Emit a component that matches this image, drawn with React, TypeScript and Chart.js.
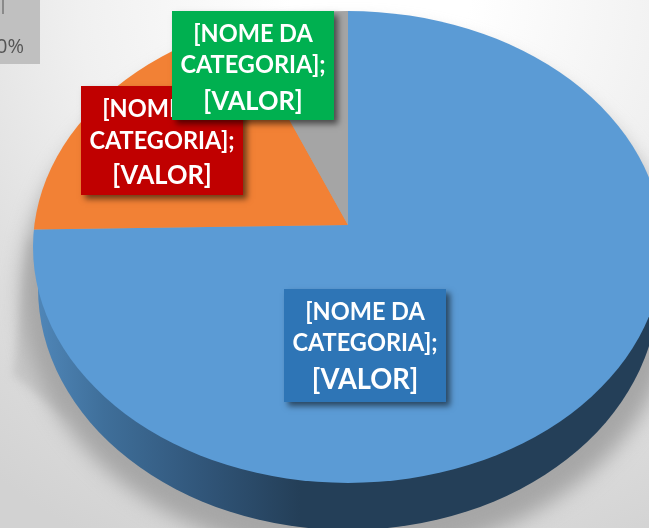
import React, { useEffect, useRef } from "react";
import { Chart, registerables } from "chart.js";

Chart.register(...registerables);

const categories = ["[NOME DA CATEGORIA] 1", "[NOME DA CATEGORIA] 2", "[NOME DA CATEGORIA] 3"];
const values = [74.7, 19.0, 6.3];
const sliceColors = ["#5B9BD5", "#F28135", "#A5A5A5"];
const labelLines = ["[NOME DA", "CATEGORIA];", "[VALOR]"];
const labelBoxes = [
  { x: 81, y: 86, w: 162, h: 109, color: "#C00000", lines: [108, 140, 174], big: 27 },
  { x: 172, y: 11, w: 162, h: 109, color: "#00B050", lines: [33, 64, 100], big: 27 },
  { x: 284, y: 289, w: 162, h: 113, color: "#2E75B6", lines: [311, 342, 379], big: 29 },
];

const APEX = { x: 348, y: 225 };
const TOP = { x: 348, y: 247, rx: 315, ry: 236 };
const BASE = { x: 348, y: 288, rx: 310, ry: 242 };
const TILT = 0.75;
const FONT = "Lato, 'Open Sans', sans-serif";
const TEXT_SQUEEZE = 0.94;

const pie3d = {
  id: "pie3d",
  beforeDatasetsDraw(chart: any) {
    const ctx: CanvasRenderingContext2D = chart.ctx;
    const W = chart.width;
    const H = chart.height;
    ctx.save();
    const bg = ctx.createRadialGradient(380, -10, 90, 380, -10, 620);
    bg.addColorStop(0, "#ffffff");
    bg.addColorStop(0.4, "#f0f0f0");
    bg.addColorStop(0.68, "#e0e0e0");
    bg.addColorStop(1, "#d2d2d2");
    ctx.fillStyle = bg;
    ctx.fillRect(0, 0, W, H);

    // top-left leftover box
    ctx.fillStyle = "#c0c0c0";
    ctx.fillRect(0, 0, 40, 64);
    ctx.fillStyle = "#8a8a8a";
    ctx.fillRect(2, 0, 2, 14);
    ctx.fillStyle = "#555555";
    ctx.font = "20px 'Open Sans', sans-serif";
    ctx.textAlign = "right";
    ctx.textBaseline = "alphabetic";
    ctx.fillText("0%", 24, 53);

    // soft shadow under the pie
    ctx.save();
    ctx.filter = "blur(4px)";
    ctx.fillStyle = "#c6c6c6";
    ctx.beginPath();
    ctx.moveTo(29, 240);
    ctx.lineTo(13, 375);
    ctx.lineTo(70, 420);
    ctx.lineTo(60, 240);
    ctx.closePath();
    ctx.fill();
    ctx.filter = "blur(10px)";
    ctx.fillStyle = "#a6a6a6";
    ctx.beginPath();
    ctx.ellipse(350, 292, 328, 266, 0, 0, Math.PI * 2);
    ctx.fill();
    ctx.restore();

    // side wall
    const wall = ctx.createLinearGradient(38, 0, 300, 0);
    wall.addColorStop(0, "#4f86b8");
    wall.addColorStop(0.25, "#3f6f9a");
    wall.addColorStop(0.62, "#31567a");
    wall.addColorStop(1, "#243f58");
    ctx.fillStyle = wall;
    ctx.beginPath();
    ctx.ellipse(BASE.x, BASE.y, BASE.rx, BASE.ry, 0, 0, Math.PI);
    ctx.closePath();
    ctx.fill();
    ctx.restore();

    // the slices: chart centre stays on the apex, the ellipse trims them
    ctx.save();
    ctx.beginPath();
    ctx.ellipse(TOP.x, TOP.y, TOP.rx, TOP.ry, 0, 0, Math.PI * 2);
    ctx.clip();
    ctx.translate(APEX.x, APEX.y);
    ctx.scale(1, TILT);
    ctx.translate(-APEX.x, -APEX.y);
  },
  afterDatasetsDraw(chart: any) {
    const ctx: CanvasRenderingContext2D = chart.ctx;
    ctx.restore();
    ctx.save();
    ctx.textAlign = "center";
    ctx.textBaseline = "middle";
    for (const b of labelBoxes) {
      ctx.save();
      ctx.shadowColor = "rgba(0,0,0,0.55)";
      ctx.shadowBlur = 6;
      ctx.shadowOffsetX = 4;
      ctx.shadowOffsetY = 4;
      ctx.fillStyle = b.color;
      ctx.fillRect(b.x, b.y, b.w, b.h);
      ctx.restore();
      ctx.save();
      ctx.beginPath();
      ctx.rect(b.x, b.y, b.w, b.h);
      ctx.clip();
      ctx.fillStyle = "#ffffff";
      labelLines.forEach((t, i) => {
        ctx.save();
        ctx.translate(b.x + b.w / 2, b.lines[i] + 1);
        ctx.scale(TEXT_SQUEEZE, 1);
        ctx.font = `bold ${i === 2 ? b.big : 25}px ${FONT}`;
        ctx.fillText(t, 0, 0);
        ctx.restore();
      });
      ctx.restore();
    }
    ctx.restore();
  },
};

export default function App() {
  const ref = useRef<HTMLCanvasElement>(null);
  useEffect(() => {
    const chart = new Chart(ref.current!, {
      type: "pie",
      data: {
        labels: categories,
        datasets: [
          {
            data: values,
            backgroundColor: sliceColors,
            borderWidth: 0,
            clip: false,
          } as any,
        ],
      },
      options: {
        animation: false,
        responsive: false,
        radius: 450,
        layout: { padding: { left: 47, bottom: 78 } },
        plugins: { legend: { display: false }, tooltip: { enabled: false } },
      } as any,
      plugins: [pie3d],
    });
    return () => chart.destroy();
  }, []);
  return (
    <div style={{ position: "absolute", left: 0, top: 0, width: 649, height: 528, overflow: "hidden" }}>
      <canvas ref={ref} width={649} height={528} style={{ display: "block" }} />
    </div>
  );
}
